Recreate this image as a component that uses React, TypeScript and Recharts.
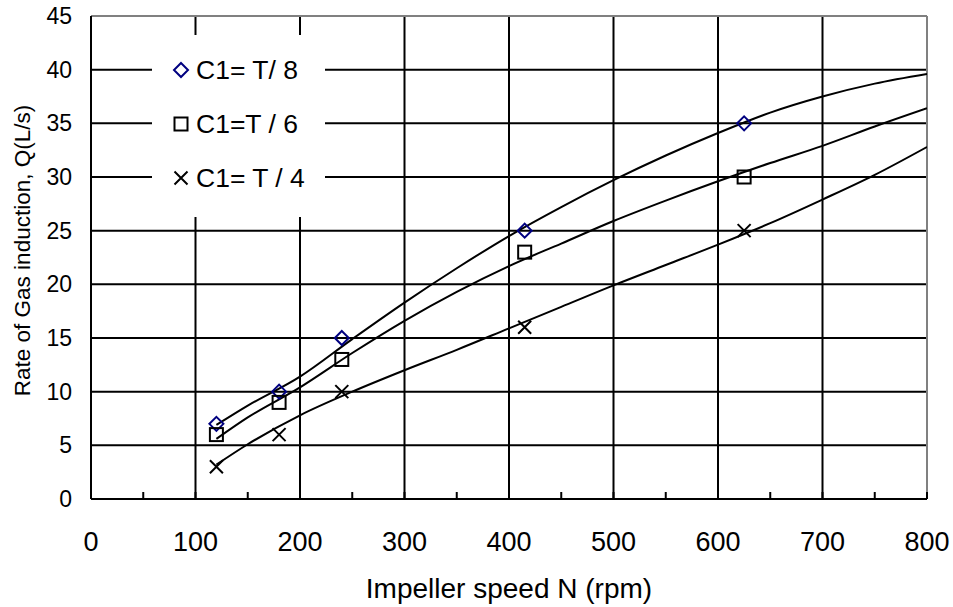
import { ComposedChart, Line, Scatter, XAxis, YAxis, CartesianGrid, Legend, ReferenceLine } from "recharts";

// measured points
const speedN = [120, 180, 240, 415, 625];
const qT8 = [7, 10, 15, 25, 35];
const qT6 = [6, 9, 13, 23, 30];
const qT4 = [3, 6, 10, 16, 25];

// trend curves
const trendN = [120, 150, 200, 250, 300, 350, 400, 450, 500, 550, 600, 650, 700, 750, 800];
const trendT8 = [6.9, 8.7, 11.4, 14.9, 18.3, 21.5, 24.5, 27.2, 29.7, 32.0, 34.1, 36.0, 37.5, 38.7, 39.6];
const trendT6 = [5.6, 7.6, 10.4, 13.6, 16.6, 19.3, 21.7, 23.8, 25.9, 27.8, 29.6, 31.3, 32.9, 34.7, 36.4];
const trendT4 = [3.2, 5.1, 7.8, 10.0, 12.0, 13.9, 15.9, 17.9, 19.9, 21.8, 23.7, 25.7, 27.9, 30.2, 32.8];

const seriesNames = ["C1= T/ 8", "C1=T / 6", "C1= T / 4"];

// labelled x ticks every 100, small inner ticks every 50
const xTicks = [0, 100, 200, 300, 400, 500, 600, 700, 800];
const xAllTicks = [0, 50, 100, 150, 200, 250, 300, 350, 400, 450, 500, 550, 600, 650, 700, 750, 800];
const yTicks = [0, 5, 10, 15, 20, 25, 30, 35, 40, 45];
const yMinorTicks = Array.from({ length: 46 }, (_, i) => i);

const FONT = "'Liberation Sans', Arial, sans-serif";
const NAVY = "#000080";

const toPoints = (xs: number[], ys: number[]) => xs.map((x, i) => ({ x, y: ys[i] }));

const pointsT8 = toPoints(speedN, qT8);
const pointsT6 = toPoints(speedN, qT6);
const pointsT4 = toPoints(speedN, qT4);
const curveT8 = toPoints(trendN, trendT8);
const curveT6 = toPoints(trendN, trendT6);
const curveT4 = toPoints(trendN, trendT4);

const Diamond = ({ cx, cy }: any) => (
  <path
    d={`M${cx},${cy - 7}L${cx + 7},${cy}L${cx},${cy + 7}L${cx - 7},${cy}Z`}
    fill="none"
    stroke={NAVY}
    strokeWidth={2}
  />
);

const Square = ({ cx, cy }: any) => (
  <rect x={cx - 6.5} y={cy - 6.5} width={13} height={13} fill="none" stroke="#000" strokeWidth={2} />
);

const Cross = ({ cx, cy }: any) => (
  <path
    d={`M${cx - 6.5},${cy - 6.5}L${cx + 6.5},${cy + 6.5}M${cx - 6.5},${cy + 6.5}L${cx + 6.5},${cy - 6.5}`}
    stroke="#000"
    strokeWidth={2}
  />
);

const markers = [Diamond, Square, Cross];

const NoTick = () => <g />;

// only label the hundreds
const XTick = ({ x, y, payload }: any) => {
  if (!xTicks.includes(payload.value)) return <g />;
  return (
    <text x={x} y={y} dy="0.71em" textAnchor="middle" fontFamily={FONT} fontSize={27} fill="#000">
      {payload.value}
    </text>
  );
};

function LegendBox() {
  return (
    <div style={{ background: "#fff", width: 173, height: 182, paddingTop: 8, boxSizing: "border-box" }}>
      {seriesNames.map((name, i) => {
        const Marker = markers[i];
        return (
          <div key={name} style={{ height: 54, display: "flex", alignItems: "center" }}>
            <svg width={18} height={18} style={{ marginLeft: 20, marginRight: 6 }}>
              <Marker cx={9} cy={9} />
            </svg>
            <span style={{ fontFamily: FONT, fontSize: 26.5, color: "#000", whiteSpace: "pre" }}>{name}</span>
          </div>
        );
      })}
    </div>
  );
}

const YTitle = ({ viewBox }: any) => {
  const x = viewBox.x + 22;
  const y = viewBox.y + viewBox.height / 2 - 7;
  return (
    <text
      x={x}
      y={y}
      transform={`rotate(-90, ${x}, ${y})`}
      textAnchor="middle"
      dominantBaseline="central"
      fontFamily={FONT}
      fontSize={22.5}
      fill="#000"
    >
      Rate of Gas induction, Q(L/s)
    </text>
  );
};

export default function App() {
  return (
    <div style={{ position: "absolute", left: 0, top: 0, background: "#fff" }}>
      <ComposedChart width={953} height={607} margin={{ top: 16, right: 26, left: 0, bottom: 0 }}>
        <CartesianGrid stroke="#000" strokeWidth={2} vertical={false} />
        <XAxis
          dataKey="x"
          type="number"
          domain={[0, 800]}
          ticks={xAllTicks}
          interval={0}
          allowDataOverflow
          height={108}
          tickSize={-7}
          tickMargin={40}
          tickLine={{ stroke: "#000", strokeWidth: 2 }}
          axisLine={{ stroke: "#000", strokeWidth: 2 }}
          tick={XTick}
          label={{ value: "Impeller speed N (rpm)", position: "insideBottom", offset: 9, fontFamily: FONT, fontSize: 28, fill: "#000" }}
        />
        <YAxis
          type="number"
          domain={[0, 45]}
          ticks={yTicks}
          interval={0}
          allowDataOverflow
          width={91}
          tickLine={false}
          tickSize={0}
          tickMargin={19}
          axisLine={{ stroke: "#000", strokeWidth: 2 }}
          tick={{ fontFamily: FONT, fontSize: 23, fill: "#000" }}
          label={{ content: YTitle }}
        />
        <YAxis
          yAxisId="minor"
          type="number"
          domain={[0, 45]}
          ticks={yMinorTicks}
          interval={0}
          allowDataOverflow
          mirror
          width={0}
          axisLine={false}
          tickSize={6}
          tickLine={{ stroke: "#000", strokeWidth: 2 }}
          tick={NoTick}
        />
        {xTicks.slice(1, -1).map((v) => (
          <ReferenceLine key={v} x={v} stroke="#000" strokeWidth={2} />
        ))}
        <ReferenceLine y={45} stroke="#808080" strokeWidth={2} />
        <ReferenceLine x={800} stroke="#808080" strokeWidth={2} />
        <Line data={curveT8} dataKey="y" type="monotone" stroke="#000" strokeWidth={2} dot={false} isAnimationActive={false} legendType="none" />
        <Line data={curveT6} dataKey="y" type="monotone" stroke="#000" strokeWidth={2} dot={false} isAnimationActive={false} legendType="none" />
        <Line data={curveT4} dataKey="y" type="monotone" stroke="#000" strokeWidth={2} dot={false} isAnimationActive={false} legendType="none" />
        <Scatter name={seriesNames[0]} data={pointsT8} dataKey="y" shape={Diamond} isAnimationActive={false} />
        <Scatter name={seriesNames[1]} data={pointsT6} dataKey="y" shape={Square} isAnimationActive={false} />
        <Scatter name={seriesNames[2]} data={pointsT4} dataKey="y" shape={Cross} isAnimationActive={false} />
        <Legend
          layout="vertical"
          align="center"
          verticalAlign="middle"
          content={() => <LegendBox />}
          wrapperStyle={{ left: 152, top: 35, width: 173, height: 182 }}
        />
      </ComposedChart>
    </div>
  );
}
